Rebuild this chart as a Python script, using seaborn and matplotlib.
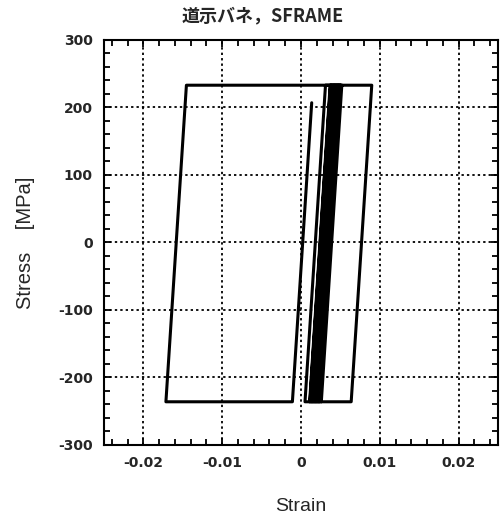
import matplotlib
matplotlib.use("Agg")
import matplotlib.pyplot as plt
from matplotlib.ticker import MultipleLocator
import numpy as np
import pandas as pd
import seaborn as sns

# Load path of the spring model: preload, full reversed loop, then repeated ratcheting cycles
strain = [
    0.00136, -0.00109, -0.01714, -0.01454, 0.00898, 0.00637, 0.00051, 0.00311,
    0.00374, 0.00114, 0.00110, 0.00370,
    0.00392, 0.00132, 0.00128, 0.00388,
    0.00410, 0.00150, 0.00146, 0.00406,
    0.00428, 0.00168, 0.00164, 0.00424,
    0.00446, 0.00186, 0.00182, 0.00442,
    0.00464, 0.00204, 0.00200, 0.00460,
    0.00482, 0.00222, 0.00218, 0.00478,
    0.00500, 0.00240, 0.00236, 0.00496,
    0.00518, 0.00258,
]
stress = [
    207, -236, -236, 233, 233, -236, -236, 233,
    233, -236, -236, 233,
    233, -236, -236, 233,
    233, -236, -236, 233,
    233, -236, -236, 233,
    233, -236, -236, 233,
    233, -236, -236, 233,
    233, -236, -236, 233,
    233, -236, -236, 233,
    233, -236,
]

x_ticks = [-0.02, -0.01, 0, 0.01, 0.02]
x_tick_labels = ["-0.02", "-0.01", "0", "0.01", "0.02"]
y_ticks = [-300, -200, -100, 0, 100, 200, 300]
y_tick_labels = ["-300", "-200", "-100", "0", "100", "200", "300"]

title_text = "道示バネ，SFRAME"
x_label = "Strain"
y_label = "Stress    [MPa]"

df = pd.DataFrame({"step": np.arange(len(strain)), "strain": strain, "stress": stress})

sns.set_style("ticks")
plt.rcParams["font.family"] = ["DejaVu Sans", "Noto Sans CJK JP"]
plt.rcParams["axes.unicode_minus"] = False

fig = plt.figure(figsize=(5.04, 5.24), dpi=100)
ax = fig.add_axes([0.2063, 0.1508, 0.7818, 0.7729])

sns.lineplot(data=df, x="strain", y="stress", sort=False, estimator=None,
             color="black", linewidth=2.2, ax=ax, zorder=3)

ax.set_xlim(-0.025, 0.025)
ax.set_ylim(-300, 300)
ax.set_xticks(x_ticks)
ax.set_xticklabels(x_tick_labels)
ax.set_yticks(y_ticks)
ax.set_yticklabels(y_tick_labels)
ax.xaxis.set_minor_locator(MultipleLocator(0.002))
ax.yaxis.set_minor_locator(MultipleLocator(20))

ax.grid(True, which="major", color="black", linestyle=(0, (1.3, 1.7)), linewidth=1.3)
ax.tick_params(which="both", direction="in", top=True, right=True, color="black",
               width=1.3, labelsize=10, pad=8)
ax.tick_params(which="major", length=5)
ax.tick_params(which="minor", length=4)
for lab in ax.get_xticklabels() + ax.get_yticklabels():
    lab.set_fontweight("bold")
for sp in ax.spines.values():
    sp.set_linewidth(1.5)
    sp.set_color("black")

ax.set_xlabel(x_label, family="Liberation Sans", fontsize=14, labelpad=20)
ax.set_ylabel(y_label, family="Liberation Sans", fontsize=14.5, labelpad=17)

fig.text(263 / 504, 1 - 16 / 524, title_text, ha="center", va="center",
         family=["Noto Sans CJK JP", "DejaVu Sans"], fontweight="bold", fontsize=13)

fig.savefig("out.png", dpi=100, facecolor="white")
